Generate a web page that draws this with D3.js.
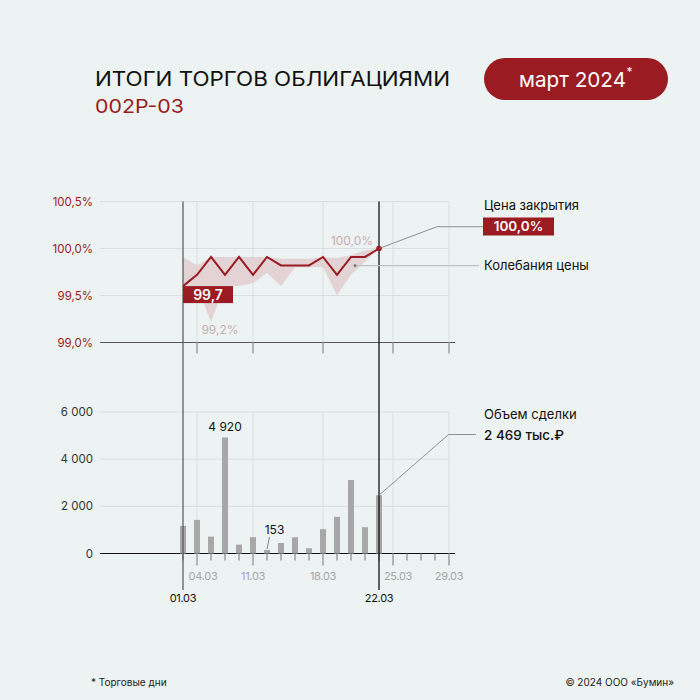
<!DOCTYPE html>
<html><head><meta charset="utf-8">
<script src="https://cdn.jsdelivr.net/npm/d3@7"></script>
<style>
html,body{margin:0;padding:0;background:#ecf3f2;}
svg{display:block;font-family:Inter,"Open Sans",sans-serif;}
</style></head>
<body>
<svg id="c" width="700" height="700"></svg>
<script>
// ---- data ----
const days = ["01.03","04.03","05.03","06.03","07.03","11.03","12.03","13.03","14.03","15.03","18.03","19.03","20.03","21.03","22.03","25.03","26.03","27.03","28.03","29.03"];
const tradeDays = days.slice(0, 15);
const closePrice = [99.6, 99.72, 99.91, 99.72, 99.91, 99.72, 99.91, 99.82, 99.82, 99.82, 99.91, 99.72, 99.91, 99.91, 100.0];
const highPrice  = [99.91, 99.82, 99.91, 99.91, 99.91, 99.91, 99.91, 99.89, 99.89, 99.89, 99.91, 99.9, 99.93, 99.98, 100.0];
const lowPrice   = [99.6, 99.6, 99.22, 99.6, 99.6, 99.63, 99.74, 99.6, 99.8, 99.8, 99.8, 99.5, 99.72, 99.86, 100.0];
const volume     = [1170, 1425, 715, 4920, 375, 690, 153, 445, 690, 220, 1030, 1553, 3115, 1115, 2469];
const labelDays  = ["04.03","11.03","18.03","25.03","29.03"];
const markDays   = ["01.03","22.03"];
const priceTicks = [99.0, 99.5, 100.0, 100.5];
const volTicks   = [0, 2000, 4000, 6000];

const RED = "#9b1b22";
const svg = d3.select("#c");
const fmtPct = v => v.toFixed(1).replace(".", ",") + "%";
const fmtVol = v => d3.format(",")(v).replace(/,/g, " ");

const x = d3.scalePoint().domain(days).range([183, 449]);
const yP = d3.scaleLinear().domain([99, 100.5]).range([342.5, 201.5]);
const yV = d3.scaleLinear().domain([0, 6000]).range([553.5, 412]);
const L = 100, R = 449, RA = 455;

// ---- title ----
svg.append("text").attr("x", 95).attr("y", 86).attr("font-size", 20).attr("font-weight", 400)
  .attr("fill", "#111").attr("textLength", 355).attr("lengthAdjust", "spacingAndGlyphs")
  .text("ИТОГИ ТОРГОВ ОБЛИГАЦИЯМИ");
svg.append("text").attr("x", 95).attr("y", 113).attr("font-size", 19).attr("font-weight", 400)
  .attr("fill", RED).attr("textLength", 89).attr("lengthAdjust", "spacingAndGlyphs").text("002P-03");
svg.append("rect").attr("x", 484).attr("y", 58).attr("width", 184).attr("height", 42).attr("rx", 21).attr("fill", RED);
const pill = svg.append("text").attr("x", 519).attr("y", 87).attr("font-size", 20.5)
  .attr("fill", "#fff").attr("textLength", 107).attr("lengthAdjust", "spacingAndGlyphs").text("март 2024");
svg.append("text").attr("x", 626.5).attr("y", 76).attr("font-size", 12).attr("fill", "#fff").text("*");

// ---- top chart grid ----
const gT = svg.append("g");
priceTicks.forEach(t => {
  gT.append("line").attr("x1", L).attr("x2", t === 99 ? RA : R).attr("y1", yP(t)).attr("y2", yP(t))
    .attr("stroke", t === 99 ? "#555" : "#d9dfdf").attr("stroke-width", t === 99 ? 1.2 : 1);
  gT.append("text").attr("x", 93).attr("y", yP(t)).attr("dy", "0.35em").attr("text-anchor", "end")
    .attr("font-size", 11.5).attr("fill", RED).text(fmtPct(t));
});
labelDays.forEach(d => {
  gT.append("line").attr("x1", x(d)).attr("x2", x(d)).attr("y1", yP(100.5)).attr("y2", yP(99))
    .attr("stroke", "#d9dfdf");
  gT.append("line").attr("x1", x(d)).attr("x2", x(d)).attr("y1", yP(99)).attr("y2", yP(99) + 11)
    .attr("stroke", "#777");
});

// band
const area = d3.area().x((d, i) => x(tradeDays[i])).y0((d, i) => yP(lowPrice[i])).y1((d, i) => yP(highPrice[i]));
gT.append("path").datum(closePrice).attr("d", area).attr("fill", "#e3d3d5");

// line
const line = d3.line().x((d, i) => x(tradeDays[i])).y(d => yP(d));
gT.append("path").datum(closePrice).attr("d", line).attr("fill", "none").attr("stroke", RED).attr("stroke-width", 2)
  .attr("stroke-linejoin", "miter");

// ---- bottom chart grid ----
const gB = svg.append("g");
volTicks.forEach(t => {
  gB.append("line").attr("x1", L).attr("x2", t === 0 ? RA : R).attr("y1", yV(t)).attr("y2", yV(t))
    .attr("stroke", t === 0 ? "#111" : "#d9dfdf").attr("stroke-width", t === 0 ? 1.2 : 1);
  gB.append("text").attr("x", 93).attr("y", yV(t)).attr("dy", "0.35em").attr("text-anchor", "end")
    .attr("font-size", 11.5).attr("fill", "#333").text(fmtVol(t));
});
labelDays.forEach(d => {
  gB.append("line").attr("x1", x(d)).attr("x2", x(d)).attr("y1", yV(6000)).attr("y2", yV(0))
    .attr("stroke", "#d9dfdf");
});
days.forEach(d => {
  const lab = labelDays.includes(d);
  gB.append("line").attr("x1", x(d)).attr("x2", x(d)).attr("y1", yV(0)).attr("y2", yV(0) + (lab ? 12 : 7))
    .attr("stroke", "#777");
});
const bw = 6;
gB.selectAll("rect.bar").data(volume).enter().append("rect").attr("class", "bar")
  .attr("x", (d, i) => x(tradeDays[i]) - bw / 2).attr("width", bw)
  .attr("y", d => yV(d)).attr("height", d => yV(0) - yV(d)).attr("fill", "#a7a7a7");

// x labels
const labShift = {"04.03": 6, "25.03": 5};
labelDays.forEach(d => {
  gB.append("text").attr("x", x(d) + (labShift[d] || 0)).attr("y", 576).attr("dy", "0.35em").attr("text-anchor", "middle")
    .attr("font-size", 11).attr("fill", "#a3a8a8").attr("letter-spacing", -0.3).text(d);
});

// marker vertical lines
markDays.forEach((d, k) => {
  svg.append("line").attr("x1", x(d)).attr("x2", x(d)).attr("y1", yP(100.5)).attr("y2", 590)
    .attr("stroke", k === 0 ? "#555" : "#000").attr("stroke-width", 1.2);
  svg.append("text").attr("x", x(d)).attr("y", 598).attr("dy", "0.35em").attr("text-anchor", "middle")
    .attr("font-size", 11).attr("fill", "#111").attr("letter-spacing", -0.3).text(d);
});

// ---- annotations top ----
const last = closePrice.length - 1;
const lx = x(tradeDays[last]), ly = yP(closePrice[last]);
svg.append("circle").attr("cx", lx).attr("cy", ly).attr("r", 2.8).attr("fill", RED);
svg.append("polyline").attr("points", `${lx},${ly} 437,226.7 483,226.7`).attr("fill", "none")
  .attr("stroke", "#777").attr("stroke-width", 0.8);
svg.append("text").attr("x", 484).attr("y", 205).attr("dy", "0.35em").attr("font-size", 13).attr("fill", "#111").text("Цена закрытия");
svg.append("rect").attr("x", 483).attr("y", 217.5).attr("width", 71).attr("height", 18).attr("fill", RED);
svg.append("text").attr("x", 518.5).attr("y", 226.5).attr("dy", "0.36em").attr("text-anchor", "middle")
  .attr("font-size", 13.5).attr("font-weight", 600).attr("fill", "#fff").text(fmtPct(closePrice[last]));

svg.append("line").attr("x1", 355).attr("x2", 479).attr("y1", 265.7).attr("y2", 265.7).attr("stroke", "#bcc1c1").attr("stroke-width", 1.2);
svg.append("circle").attr("cx", 355).attr("cy", 265.7).attr("r", 1.4).attr("fill", "#777");
svg.append("text").attr("x", 484).attr("y", 265).attr("dy", "0.35em").attr("font-size", 13).attr("fill", "#111").text("Колебания цены");

// first close label
svg.append("rect").attr("x", x(tradeDays[0])).attr("y", yP(closePrice[0])).attr("width", 50).attr("height", 17).attr("fill", RED);
svg.append("text").attr("x", x(tradeDays[0]) + 25).attr("y", yP(closePrice[0]) + 8.5).attr("dy", "0.36em").attr("text-anchor", "middle")
  .attr("font-size", 14).attr("font-weight", 600).attr("fill", "#fff").text("99,7");

// high / low labels
const maxHi = d3.max(highPrice), minLo = d3.min(lowPrice);
svg.append("text").attr("x", 352).attr("y", 241).attr("dy", "0.35em").attr("text-anchor", "middle")
  .attr("font-size", 12).attr("fill", "#c9aeb0").text(fmtPct(maxHi));
svg.append("text").attr("x", 220).attr("y", 330).attr("dy", "0.35em").attr("text-anchor", "middle")
  .attr("font-size", 12).attr("fill", "#c9aeb0").text(fmtPct(minLo));

// ---- annotations bottom ----
const maxVi = volume.indexOf(d3.max(volume));
svg.append("text").attr("x", x(tradeDays[maxVi])).attr("y", 427).attr("dy", "0.35em").attr("text-anchor", "middle")
  .attr("font-size", 12).attr("fill", "#111").text(fmtVol(volume[maxVi]));
const minVi = volume.indexOf(d3.min(volume));
svg.append("line").attr("x1", x(tradeDays[minVi])).attr("y1", yV(volume[minVi]) - 1).attr("x2", x(tradeDays[minVi]) + 2.5).attr("y2", 537)
  .attr("stroke", "#666").attr("stroke-width", 0.8);
svg.append("text").attr("x", 274.5).attr("y", 530).attr("dy", "0.35em").attr("text-anchor", "middle")
  .attr("font-size", 12).attr("fill", "#111").text(fmtVol(volume[minVi]));

const bx = x(tradeDays[last]), by = yV(volume[last]);
svg.append("polyline").attr("points", `${bx},${by} 448.5,434.5 476,434.5`).attr("fill", "none")
  .attr("stroke", "#777").attr("stroke-width", 0.8);
svg.append("text").attr("x", 484).attr("y", 414).attr("dy", "0.35em").attr("font-size", 13).attr("fill", "#111").text("Объем сделки");
svg.append("text").attr("x", 484).attr("y", 435).attr("dy", "0.35em").attr("font-size", 13.5).attr("font-weight", 500)
  .attr("fill", "#111").text(fmtVol(volume[last]) + " тыс.₽");

// ---- footer ----
svg.append("text").attr("x", 91).attr("y", 682).attr("dy", "0.35em").attr("font-size", 10).attr("fill", "#222").text("* Торговые дни");
svg.append("text").attr("x", 674).attr("y", 682).attr("dy", "0.35em").attr("text-anchor", "end").attr("font-size", 10).attr("fill", "#222").text("© 2024 ООО «Бумин»");
</script>
</body></html>
